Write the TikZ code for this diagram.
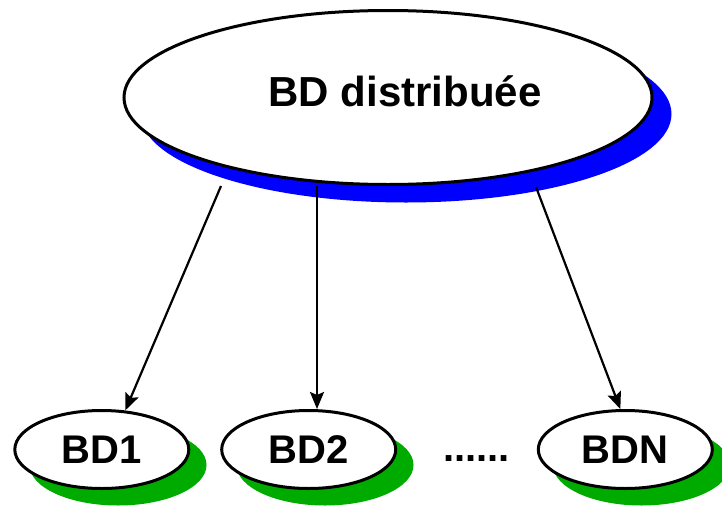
\documentclass[tikz,border=0pt]{standalone}
\usepackage{fontspec}
\setmainfont{Liberation Sans}
\usetikzlibrary{shapes.geometric,arrows.meta}

\tikzset{
  bigdb/.style={ellipse, draw=black, line width=3pt, fill=white, inner sep=0pt,
    minimum width=528pt, minimum height=174pt},
  bigshadow/.style={ellipse, fill=blue, inner sep=0pt,
    minimum width=531pt, minimum height=177pt},
  smalldb/.style={ellipse, draw=black, line width=3pt, fill=white, inner sep=0pt,
    minimum width=174pt, minimum height=78pt,
    font=\fontsize{40}{48}\selectfont\bfseries},
  smallshadow/.style={ellipse, fill=green!67!black, inner sep=0pt,
    minimum width=177pt, minimum height=81pt},
  title/.style={font=\fontsize{42}{50}\selectfont\bfseries, inner sep=0pt},
  dots/.style={font=\fontsize{40}{48}\selectfont\bfseries, inner sep=0pt},
  link/.style={line width=2.2pt, -{Stealth[length=17pt, width=14pt, inset=3pt]}}
}

\begin{document}
\begin{tikzpicture}[x=1pt, y=-1pt]
  \useasboundingbox (0,0) rectangle (722,506);

  % distributed database with its shadow
  \node[bigshadow] (dbshadow) at (406,114) {};
  \node[bigdb] (db) at (388,97.5) {};
  \node[title, anchor=base] (dbtitle) at (405,106.5) {BD distribuée};

  % local databases with their shadows
  \node[smallshadow] (bd1shadow) at (118,465) {};
  \node[smallshadow] (bd2shadow) at (325,465) {};
  \node[smallshadow] (bdnshadow) at (641.5,465) {};
  \node[smalldb] (bd1) at (101.8,449.5) {BD1};
  \node[smalldb] (bd2) at (308.7,449.5) {BD2};
  \node[smalldb] (bdn) at (625.3,449.5) {BDN};
  \node[dots, anchor=base] (more) at (476.5,461) {......};

  % links from the distributed database to its parts
  \coordinate (s1) at (221,186);
  \coordinate (s2) at (317,186);
  \coordinate (s3) at (536,187);
  \draw[link] (s1) -- (bd1.59);
  \draw[link] (s2) -- (s2 |- bd2.north);
  \draw[link] (s3) -- (bdn.97);
\end{tikzpicture}
\end{document}
